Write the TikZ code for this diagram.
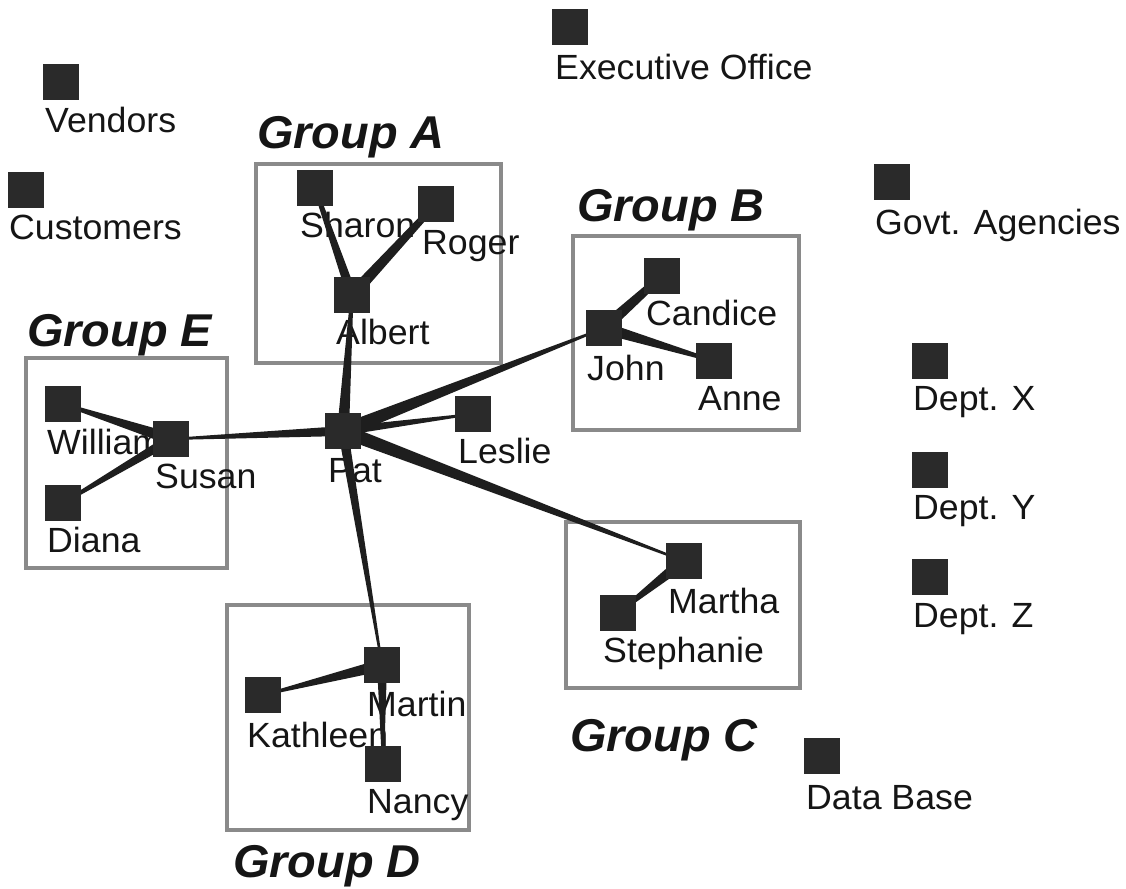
\documentclass[tikz,border=0pt]{standalone}
\usepackage{fontspec}
\setmainfont{Liberation Sans}[FakeStretch=1.02]
\usetikzlibrary{calc}
\definecolor{sqfill}{HTML}{2A2A2A}
\definecolor{lncol}{HTML}{1E1E1E}
\definecolor{boxcol}{HTML}{8A8A8A}
\definecolor{txtcol}{HTML}{151515}
\newcommand{\taper}[4]{\fill[conn] ($(#1)!#3!90:(#2)$) -- ($(#1)!#3!-90:(#2)$) -- ($(#2)!#4!90:(#1)$) -- ($(#2)!#4!-90:(#1)$) -- cycle;}
\begin{document}
\begin{tikzpicture}[x=1pt,y=-1pt,
  sq/.style={draw=none,fill=sqfill,minimum size=36pt,inner sep=0pt,outer sep=0pt},
  lab/.style={anchor=base west,inner sep=0pt,text=txtcol,font=\fontsize{35}{40}\selectfont},
  grp/.style={anchor=base west,inner sep=0pt,text=txtcol,font=\fontsize{46}{50}\selectfont\bfseries\itshape},
  gbox/.style={draw=boxcol,line width=4pt},
  conn/.style={fill=lncol}]
\useasboundingbox (0,0) rectangle (1126,888);
% group boxes
\draw[gbox] (256,164) rectangle (501,363);
\draw[gbox] (26,358) rectangle (227,568);
\draw[gbox] (573,236) rectangle (799,430);
\draw[gbox] (566,522) rectangle (800,688);
\draw[gbox] (227,605) rectangle (469,830);
% group labels
\node[grp] (gA) at (257,148) {Group A};
\node[grp] (gB) at (577,221) {Group B};
\node[grp] (gC) at (570,751) {Group C};
\node[grp] (gD) at (233,877) {Group D};
\node[grp] (gE) at (27,346) {Group E};
% labels
\node[lab] (lVen) at (45,132) {Vendors};
\node[lab] (lCus) at (9,239) {Customers};
\node[lab] (lExe) at (555,80) {Executive Office};
\node[lab] (lGov) at (875,234) {Govt. Agencies};
\node[lab] (lDX) at (913,410) {Dept. X};
\node[lab] (lDY) at (913,519) {Dept. Y};
\node[lab] (lDZ) at (913,627) {Dept. Z};
\node[lab] (lDB) at (806,809) {Data Base};
\node[lab] (lSha) at (300,237) {Sharon};
\node[lab] (lRog) at (422,254) {Roger};
\node[lab] (lAlb) at (336,344) {Albert};
\node[lab] (lWil) at (47,454) {William};
\node[lab] (lSus) at (155,488) {Susan};
\node[lab] (lDia) at (47,552) {Diana};
\node[lab] (lPat) at (328,482) {Pat};
\node[lab] (lLes) at (458,463) {Leslie};
\node[lab] (lCan) at (646,325) {Candice};
\node[lab] (lJoh) at (587,380) {John};
\node[lab] (lAnn) at (698,410) {Anne};
\node[lab] (lMar) at (668,613) {Martha};
\node[lab] (lSte) at (603,662) {Stephanie};
\node[lab] (lMtn) at (367,716) {Martin};
\node[lab] (lKat) at (247,747) {Kathleen};
\node[lab] (lNan) at (367,813) {Nancy};
% square positions
\path
 (61,82) coordinate (cVen)
 (26,190) coordinate (cCus)
 (570,27) coordinate (cExe)
 (892,182) coordinate (cGov)
 (930,361) coordinate (cDX)
 (930,470) coordinate (cDY)
 (930,577) coordinate (cDZ)
 (822,756) coordinate (cDB)
 (315,188) coordinate (cSha)
 (436,204) coordinate (cRog)
 (352,295) coordinate (cAlb)
 (63,404) coordinate (cWil)
 (171,439) coordinate (cSus)
 (63,503) coordinate (cDia)
 (343,431) coordinate (cPat)
 (473,414) coordinate (cLes)
 (662,276) coordinate (cCan)
 (604,328) coordinate (cJoh)
 (714,361) coordinate (cAnn)
 (684,561) coordinate (cMar)
 (618,613) coordinate (cSte)
 (382,665) coordinate (cMtn)
 (263,695) coordinate (cKat)
 (383,764) coordinate (cNan);
% connectors
\taper{cPat}{cAlb}{6pt}{1.5pt}
\taper{cPat}{cSus}{5pt}{1pt}
\taper{cPat}{cJoh}{7pt}{1pt}
\taper{cPat}{cLes}{4.5pt}{1pt}
\taper{cPat}{cMar}{7pt}{1pt}
\taper{cPat}{cMtn}{5pt}{1pt}
\taper{cAlb}{cSha}{5pt}{2pt}
\taper{cAlb}{cRog}{6pt}{3pt}
\taper{cSus}{cWil}{6pt}{1.5pt}
\taper{cSus}{cDia}{5pt}{1.5pt}
\taper{cJoh}{cCan}{6pt}{3.5pt}
\taper{cJoh}{cAnn}{6pt}{1.5pt}
\taper{cMar}{cSte}{6pt}{1.5pt}
\taper{cMtn}{cKat}{6pt}{1pt}
\taper{cMtn}{cNan}{5pt}{1pt}
% squares
\foreach \n in {Ven,Cus,Exe,Gov,DX,DY,DZ,DB,Sha,Rog,Alb,Wil,Sus,Dia,Pat,Les,Can,Joh,Ann,Mar,Ste,Mtn,Kat,Nan}
  \node[sq] (s\n) at (c\n) {};
\end{tikzpicture}
\end{document}
